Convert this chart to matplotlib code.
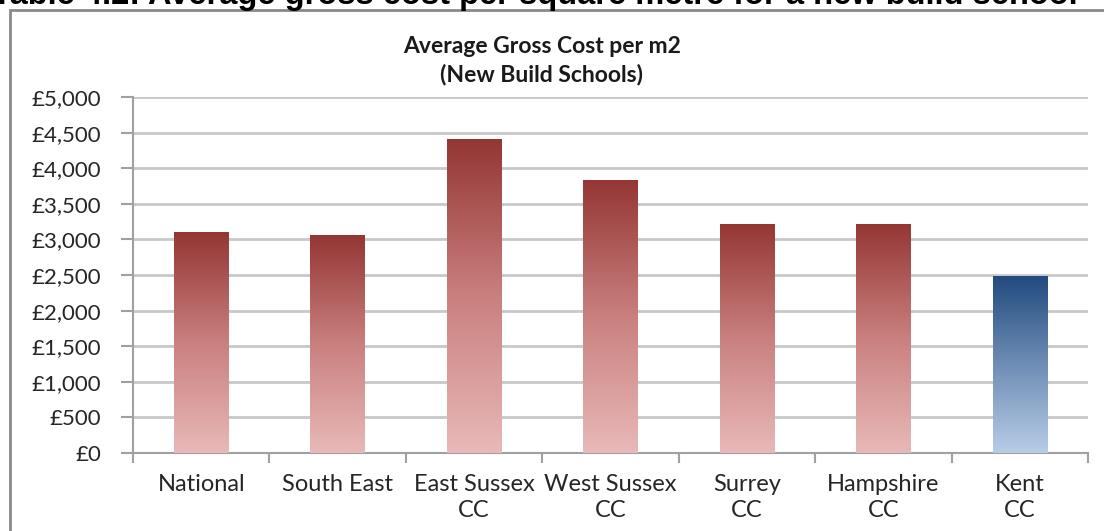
import numpy as np
import matplotlib
matplotlib.use("Agg")
import matplotlib.pyplot as plt
from matplotlib.patches import Rectangle
from matplotlib.colors import LinearSegmentedColormap
from matplotlib.ticker import FuncFormatter, MultipleLocator

categories = ["National", "South East", "East Sussex\nCC", "West Sussex\nCC",
              "Surrey\nCC", "Hampshire\nCC", "Kent\nCC"]
costs = [3100, 3060, 4410, 3840, 3220, 3220, 2490]
highlight = [False, False, False, False, False, False, True]

page_title = "Table 4.2: Average gross cost per square metre for a new build school"
chart_title = "Average Gross Cost per m2\n(New Build Schools)"

red_grad = LinearSegmentedColormap.from_list("red", ["#E8B9B8", "#C9807F", "#943634"])
blue_grad = LinearSegmentedColormap.from_list("blue", ["#B8CCE6", "#6E8DB5", "#214A7E"])

plt.rcParams['font.family'] = ['Lato', 'DejaVu Sans']

fig = plt.figure(figsize=(11.04, 5.31), dpi=100)
ax = fig.add_axes([133/1104, 1 - 453/531, (1088 - 133)/1104, (453 - 97)/531])

# frame round the chart
fig.patches.append(Rectangle((10/1104, -0.1), 1.2, 1 - 10/531 + 0.1,
                             transform=fig.transFigure, fill=False,
                             edgecolor="#8a8a8a", linewidth=2))

x = np.arange(len(categories))
bars = ax.bar(x, costs, width=0.4, color="none", zorder=3)

grad = np.linspace(0, 1, 256).reshape(-1, 1)
for b, hl in zip(bars, highlight):
    cmap = blue_grad if hl else red_grad
    x0, w, h = b.get_x(), b.get_width(), b.get_height()
    im = ax.imshow(grad, cmap=cmap, origin="lower", aspect="auto",
                   extent=[x0, x0 + w, 0, h], zorder=3)
    im.set_clip_path(b)

ax.set_xlim(-0.5, len(categories) - 0.5)
ax.set_ylim(0, 5000)
ax.yaxis.set_major_locator(MultipleLocator(500))
ax.yaxis.set_major_formatter(FuncFormatter(lambda v, p: "£{:,.0f}".format(v)))
ax.grid(axis="y", color="#c8c8c8", linewidth=2, zorder=0)
ax.set_axisbelow(True)

ax.set_xticks(x)
ax.set_xticklabels(categories, fontsize=17, color="#262626", linespacing=1.3)
ax.set_xticks(np.arange(-0.5, len(categories)), minor=True)
ax.tick_params(axis="x", which="major", length=0, pad=15)
ax.tick_params(axis="x", which="minor", length=7, color="#a0a0a0", width=1.5)
ax.tick_params(axis="y", length=9, color="#a0a0a0", width=1.5,
               labelsize=16, labelcolor="#262626", pad=14)

for s in ["top", "right"]:
    ax.spines[s].set_visible(False)
for s in ["left", "bottom"]:
    ax.spines[s].set_color("#a0a0a0")
    ax.spines[s].set_linewidth(1.5)

fig.text(542/1104, 1 - 36/531, chart_title, ha="center", va="top",
         fontsize=16.5, fontweight="bold", color="#1a1a1a", linespacing=1.35)

fig.text(535/1104, 1 - 4/531, page_title, ha="center", va="baseline",
         fontsize=23.5, fontweight="bold", color="black",
         family=["Liberation Sans", "DejaVu Sans"])

fig.savefig("out.png", dpi=100)
